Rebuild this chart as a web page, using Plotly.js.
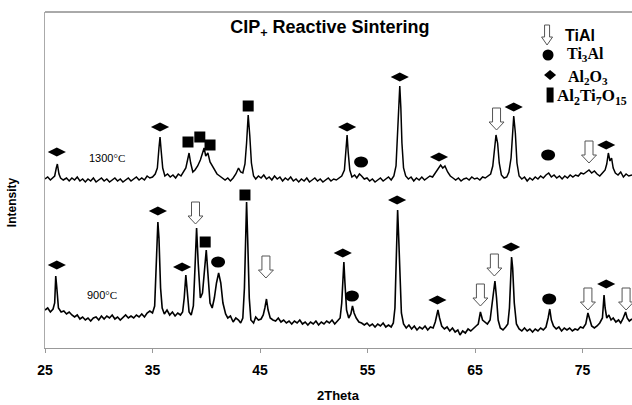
<!DOCTYPE html>
<html><head><meta charset="utf-8">
<script src="https://cdn.plot.ly/plotly-3.0.1.min.js"></script>
<style>body{margin:0;background:#fff}#chart{width:632px;height:405px}</style>
</head><body><div id="chart"></div>
<script>
// XRD pattern, sample sintered at 1300 °C: [2theta, intensity]
const pattern1300 = [[25.0,169],[25.25,171],[25.5,168],[25.75,171],[25.9,172],[26.05,180],[26.15,184],[26.3,174],[26.45,170],[26.7,168],
[27.0,170],[27.25,167],[27.5,170],[27.75,168],[28.0,171],[28.25,167],[28.5,169],[28.75,166],[29.0,169],[29.25,167],[29.5,170],[29.75,166],[30.0,168],[30.25,170],[30.5,167],[30.75,169],[31.0,166],[31.25,168],[31.5,170],[31.75,167],[32.0,169],[32.25,166],[32.5,168],[32.75,170],[33.0,167],[33.25,169],[33.5,171],[33.75,168],[34.0,170],[34.25,168],[34.5,172],[34.75,170],[35.0,171],[35.25,174],[35.45,180],[35.6,200],[35.7,211],[35.8,198],[35.95,180],[36.15,172],[36.4,174],[36.65,171],[36.9,173],[37.15,170],[37.4,174],[37.65,172],[37.9,176],[38.1,180],[38.3,190],[38.4,195],[38.55,185],[38.75,176],[38.95,178],[39.2,182],[39.45,188],[39.65,194],[39.8,200],[39.95,192],[40.15,195],[40.35,186],[40.55,182],[40.75,178],[41.0,174],[41.25,172],[41.5,170],[41.75,168],[42.0,170],[42.25,167],[42.5,170],[42.75,174],[43.0,180],[43.2,176],[43.4,175],[43.6,184],[43.75,205],[43.9,233],[44.05,212],[44.2,185],[44.4,172],[44.6,169],[44.85,172],[45.1,170],[45.35,173],[45.6,169],[45.85,171],[46.1,168],[46.35,172],[46.6,169],[46.85,171],[47.1,167],[47.35,170],[47.6,168],[47.85,171],[48.1,167],[48.35,169],[48.6,166],[48.85,169],[49.1,167],[49.35,170],[49.6,166],[49.85,168],[50.1,170],[50.35,167],[50.6,169],[50.85,166],[51.1,168],[51.35,170],[51.6,167],[51.85,169],[52.1,168],[52.35,170],[52.6,172],[52.85,178],[53.0,195],[53.1,213],[53.2,196],[53.35,178],[53.55,171],[53.8,173],[54.0,170],[54.25,174],[54.45,172],[54.7,169],[54.95,170],[55.2,167],[55.45,169],[55.7,166],[55.95,168],[56.2,170],[56.45,167],[56.7,169],[56.95,171],[57.2,168],[57.45,172],[57.65,182],[57.8,215],[57.9,245],[58.0,262],[58.1,240],[58.2,205],[58.35,180],[58.55,172],[58.8,169],[59.05,171],[59.3,167],[59.55,170],[59.8,168],[60.05,171],[60.3,168],[60.55,170],[60.8,172],[61.05,171],[61.3,175],[61.55,179],[61.8,183],[62.0,180],[62.2,182],[62.45,176],[62.7,172],[62.95,170],[63.2,168],[63.45,170],[63.7,167],[63.95,169],[64.2,170],[64.45,168],[64.7,171],[64.95,169],[65.2,170],[65.45,168],[65.7,171],[65.95,170],[66.2,172],[66.45,174],[66.65,182],[66.8,200],[66.95,213],[67.1,205],[67.25,185],[67.45,173],[67.7,170],[67.95,171],[68.15,176],[68.35,190],[68.5,220],[68.6,232],[68.75,215],[68.9,185],[69.1,172],[69.35,169],[69.6,171],[69.85,167],[70.1,170],[70.35,168],[70.6,171],[70.85,169],[71.1,172],[71.35,170],[71.6,173],[71.85,175],[72.1,171],[72.35,173],[72.6,170],[72.85,172],[73.1,169],[73.35,172],[73.6,170],[73.85,173],[74.1,171],[74.35,173],[74.6,172],[74.85,175],[75.1,174],[75.35,176],[75.6,178],[75.85,175],[76.1,177],[76.35,174],[76.6,172],[76.85,175],[77.1,178],[77.25,184],[77.4,195],[77.55,187],[77.7,190],[77.85,180],[78.05,175],[78.3,173],[78.55,176],[78.8,171],[79.05,174],[79.3,172],[79.6,173]];

// XRD pattern, sample sintered at 900 °C: [2theta, intensity]
const pattern900 = [[25.0,38],[25.25,40],[25.5,36],[25.75,39],[25.9,45],[26.0,72],[26.1,60],[26.25,40],[26.5,36],[26.75,37],[27.0,34],[27.25,36],[27.5,33],[27.75,31],[28.0,33],[28.25,29],[28.5,31],[28.75,28],[29.0,30],[29.25,27],[29.5,30],[29.75,31],[30.0,28],[30.25,32],[30.5,29],[30.75,32],[31.0,30],[31.25,33],[31.5,29],[31.75,31],[32.0,28],[32.25,31],[32.5,33],[32.75,30],[33.0,32],[33.25,30],[33.5,33],[33.75,31],[34.0,34],[34.25,31],[34.5,35],[34.75,37],[35.0,35],[35.2,42],[35.35,90],[35.5,126],[35.6,110],[35.75,60],[35.9,40],[36.1,34],[36.35,38],[36.6,33],[36.85,36],[37.1,32],[37.35,35],[37.6,33],[37.8,36],[37.95,50],[38.1,73],[38.25,55],[38.4,36],[38.6,33],[38.8,42],[38.95,80],[39.1,120],[39.25,85],[39.45,50],[39.65,55],[39.85,85],[40.0,98],[40.15,75],[40.35,45],[40.55,40],[40.75,50],[40.95,65],[41.15,75],[41.35,65],[41.55,45],[41.8,34],[42.0,30],[42.25,32],[42.5,26],[42.75,30],[43.0,28],[43.2,25],[43.4,30],[43.55,60],[43.65,110],[43.75,146],[43.85,110],[44.0,50],[44.15,28],[44.4,25],[44.6,31],[44.85,28],[45.1,29],[45.3,33],[45.45,40],[45.6,49],[45.75,38],[45.95,30],[46.2,28],[46.45,27],[46.7,30],[46.95,26],[47.2,28],[47.45,25],[47.7,27],[47.95,24],[48.2,27],[48.45,25],[48.7,28],[48.95,24],[49.2,26],[49.45,23],[49.7,26],[49.95,24],[50.2,27],[50.45,23],[50.7,26],[50.95,24],[51.2,27],[51.45,25],[51.7,28],[51.95,24],[52.2,27],[52.45,30],[52.6,45],[52.7,70],[52.8,86],[52.9,65],[53.05,38],[53.25,30],[53.45,34],[53.6,42],[53.75,35],[53.95,30],[54.2,26],[54.45,25],[54.7,23],[54.95,25],[55.2,22],[55.45,24],[55.7,21],[55.95,24],[56.2,22],[56.45,25],[56.7,21],[56.95,23],[57.2,21],[57.4,25],[57.55,40],[57.65,80],[57.75,120],[57.8,138],[57.9,110],[58.0,70],[58.15,35],[58.35,24],[58.6,20],[58.85,23],[59.1,19],[59.35,22],[59.6,18],[59.85,21],[60.1,19],[60.35,22],[60.6,18],[60.85,21],[61.1,20],[61.3,26],[61.45,36],[61.55,38],[61.7,30],[61.9,22],[62.15,19],[62.4,21],[62.65,17],[62.9,20],[63.15,16],[63.4,18],[63.6,13],[63.85,17],[64.1,15],[64.35,19],[64.6,17],[64.85,20],[65.1,22],[65.3,24],[65.5,36],[65.7,28],[65.9,26],[66.15,24],[66.4,28],[66.6,45],[66.75,60],[66.85,67],[67.0,50],[67.15,28],[67.35,20],[67.6,18],[67.85,21],[68.05,24],[68.2,40],[68.3,70],[68.4,91],[68.5,80],[68.65,45],[68.85,24],[69.1,19],[69.35,17],[69.6,20],[69.85,17],[70.1,19],[70.35,16],[70.6,19],[70.85,17],[71.1,20],[71.35,18],[71.6,21],[71.8,30],[71.95,39],[72.1,28],[72.3,22],[72.55,19],[72.8,21],[73.05,17],[73.3,20],[73.55,18],[73.8,20],[74.05,17],[74.3,19],[74.55,18],[74.8,21],[75.05,20],[75.3,24],[75.5,35],[75.65,30],[75.85,22],[76.1,20],[76.35,22],[76.6,25],[76.85,30],[77.0,53],[77.1,40],[77.25,30],[77.45,33],[77.65,28],[77.85,30],[78.1,26],[78.35,28],[78.55,25],[78.75,29],[79.0,36],[79.15,30],[79.35,27],[79.6,29]];

// Phase identification markers [2theta, label height]
const al2o3Marks = [[26.1,196],[35.7,221],[53.1,221],[58.0,271],[61.65,191],[68.6,241],[77.2,203],
                    [26.1,83],[35.5,137],[37.75,81],[52.7,95],[57.75,148],[61.5,48],[68.35,101],[77.2,64]];
const al2ti7o15Marks = [[38.3,206],[39.4,211],[40.35,203],[43.9,242],[39.9,106],[43.6,153]];
const ti3alMarks = [[54.4,186],[71.8,193],[41.1,86],[53.55,52],[71.9,49]];
const tialMarks = [[67.0,229],[75.6,196],[39.0,135],[45.55,81],[65.5,53],[66.8,83],[75.5,49],[79.05,49]];

const xTicks = [25, 35, 45, 55, 65, 75];
const sampleLabels = ['1300<span style="font-family:Liberation Serif">°C</span>', '900<span style="font-family:Liberation Serif">°C</span>'];
const legendNames = ['TiAl', 'Ti<sub>3</sub>Al', 'Al<sub>2</sub>O<sub>3</sub>', 'Al<sub>2</sub>Ti<sub>7</sub>O<sub>15</sub>'];

const col = i => arr => arr.map(p => p[i]);
const X = col(0), Y = col(1);

const traces = [
  {x: X(pattern1300), y: Y(pattern1300), mode: 'lines', line: {color: '#000', width: 1.5}, hoverinfo: 'skip'},
  {x: X(pattern900), y: Y(pattern900), mode: 'lines', line: {color: '#000', width: 1.6}, hoverinfo: 'skip'},
  {x: X(al2o3Marks), y: Y(al2o3Marks), mode: 'markers', marker: {symbol: 'diamond-wide', size: 13, color: '#000'}, cliponaxis: false},
  {x: X(al2ti7o15Marks), y: Y(al2ti7o15Marks), mode: 'markers', marker: {symbol: 'square', size: 11, color: '#000'}, cliponaxis: false}
];

// pixel-sized glyph shapes anchored at data positions
const arrowPath = 'M-4,11 L4,11 L4,-3 L7.5,-3 L0,-11 L-7.5,-3 L-4,-3 Z';
const legendArrowPath = 'M-2.5,10 L2.5,10 L2.5,-2 L5.5,-2 L0,-10 L-5.5,-2 L-2.5,-2 Z';
const pix = (t, v, extra) => Object.assign({xref: 'x', yref: 'y', xsizemode: 'pixel', ysizemode: 'pixel', xanchor: t, yanchor: v, layer: 'above'}, extra);
const shapes = [
  {type: 'line', xref: 'paper', yref: 'paper', x0: 0, x1: 1, y0: 1, y1: 1, line: {color: '#555', width: 1}},
  ...tialMarks.map(([t, v]) => pix(t, v, {type: 'path', path: arrowPath, line: {color: '#555', width: 1}, fillcolor: '#fff'})),
  ...ti3alMarks.map(([t, v]) => pix(t, v, {type: 'circle', x0: -7, x1: 7, y0: -5.5, y1: 5.5, line: {color: '#000', width: 0}, fillcolor: '#000'})),
  // legend symbols
  pix(71.7, 313, {type: 'path', path: legendArrowPath, line: {color: '#555', width: 1}, fillcolor: '#fff'}),
  pix(71.79, 293, {type: 'circle', x0: -5.5, x1: 5.5, y0: -5.5, y1: 5.5, line: {width: 0}, fillcolor: '#000'}),
  pix(71.98, 273, {type: 'path', path: 'M-6,0 L0,5 L6,0 L0,-5 Z', line: {width: 0}, fillcolor: '#000'}),
  pix(71.98, 253, {type: 'rect', x0: -3.5, x1: 3.5, y0: -7.5, y1: 7.5, line: {width: 0}, fillcolor: '#000'})
];

const serif = 'Liberation Serif';
const sans = 'Liberation Sans, Arial';
const annotations = [
  {x: 28.9, y: 190, text: sampleLabels[0], xanchor: 'left', yanchor: 'middle', font: {family: sans, size: 11, color: '#000'}},
  {x: 28.7, y: 53, text: sampleLabels[1], xanchor: 'left', yanchor: 'middle', font: {family: sans, size: 11, color: '#000'}},
  {x: 73.2, y: 313, text: legendNames[0], xanchor: 'left', yanchor: 'middle', font: {family: sans, size: 16, color: '#000', weight: 'bold'}},
  {x: 73.4, y: 294, text: legendNames[1], xanchor: 'left', yanchor: 'middle', font: {family: serif, size: 16, color: '#000', weight: 'bold'}},
  {x: 73.5, y: 271, text: legendNames[2], xanchor: 'left', yanchor: 'middle', font: {family: serif, size: 16, color: '#000', weight: 'bold'}},
  {x: 72.4, y: 251, text: legendNames[3], xanchor: 'left', yanchor: 'middle', font: {family: serif, size: 17, color: '#000', weight: 'bold'}},
  {xref: 'paper', yref: 'paper', x: 0.5, y: -0.14, text: '2Theta', xanchor: 'center', yanchor: 'middle',
   font: {family: sans, size: 13, color: '#000', weight: 'bold'}},
  {xref: 'paper', yref: 'paper', x: -0.042, y: 0.435, text: 'Intensity', textangle: -90, xanchor: 'right', yanchor: 'middle',
   font: {family: sans, size: 12, color: '#000', weight: 'bold'}}
].map(a => Object.assign({showarrow: false, xref: 'x', yref: 'y'}, a));

const layout = {
  width: 632, height: 405,
  margin: {l: 45, r: 0, t: 12, b: 57},
  paper_bgcolor: '#fff', plot_bgcolor: '#fff',
  showlegend: false,
  title: {text: 'CIP<sub>+</sub> Reactive Sintering', x: 0.522, xref: 'container', xanchor: 'center',
          y: 0.933, yref: 'container', yanchor: 'middle',
          font: {family: sans, size: 18, color: '#000', weight: 'bold'}},
  xaxis: {range: [25, 79.6], tickvals: xTicks, ticktext: xTicks.map(String), ticks: 'outside', ticklen: 4,
          tickcolor: '#999', showline: true, linecolor: '#999', linewidth: 1, showgrid: false, zeroline: false,
          ticklabelstandoff: 5,
          tickfont: {family: sans, size: 14, color: '#000', weight: 'bold'}},
  yaxis: {range: [0, 336], showticklabels: false, ticks: '', showline: true, linecolor: '#aaa', linewidth: 1,
          showgrid: false, zeroline: false},
  shapes: shapes,
  annotations: annotations
};

Plotly.newPlot('chart', traces, layout, {staticPlot: true, displayModeBar: false});
</script>
</body></html>
